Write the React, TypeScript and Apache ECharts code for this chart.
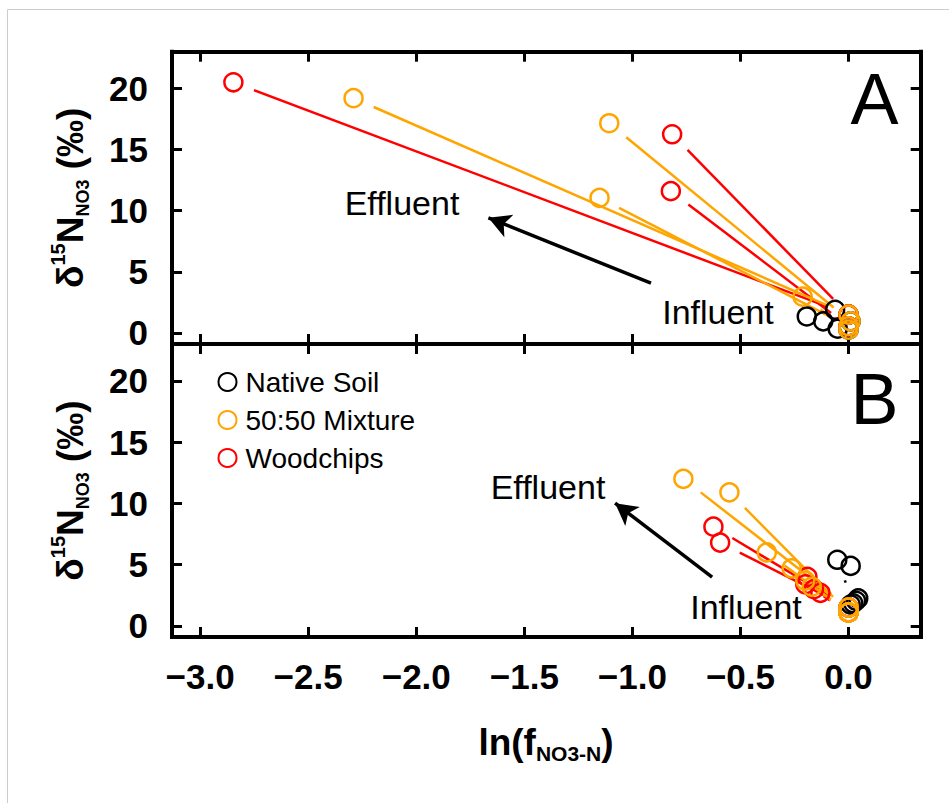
import React, { useEffect, useRef } from "react";
import * as echarts from "echarts";

const FONT = '"Liberation Sans", Arial, Helvetica, sans-serif';

// axis ticks
const xTicks = [-3, -2.5, -2, -1.5, -1, -0.5, 0];
const yTicks = [0, 5, 10, 15, 20];
const X_MIN = -3.13;
const X_MAX = 0.334;
const Y_MIN = -0.9;
const Y_MAX = 23;

const seriesNames = ["Native Soil", "50:50 Mixture", "Woodchips"];

// ---------- Panel A : [ln(f), d15N] ----------
const aSoilEffluent = [[-0.193, 1.35], [-0.117, 0.95], [-0.062, 1.9], [-0.05, 0.35]];
const aSoilInfluent = [[0, 1.5], [0.01, 0.95], [0, 0.55], [0, 0.27]];
const aMixEffluent = [[-2.29, 19.2], [-1.107, 17.15], [-1.152, 11.05], [-0.212, 2.97]];
const aMixInfluent = [[0, 1.5], [0.01, 0.95], [0, 0.55], [0, 0.27]];
const aWoodEffluent = [[-2.846, 20.5], [-0.816, 16.25], [-0.822, 11.6]];
const aWoodInfluent = [[0, 1.5], [0, 1.5], [0, 0.55]];
const aArrowFrom = [-0.914, 4.07];
const aArrowTo = [-1.666, 9.42];

// ---------- Panel B ----------
const bSoilEffluent = [[-0.052, 5.4], [0.01, 4.9], [0.045, 2.25]];
const bSoilInfluent = [[0.022, 1.85], [0.035, 2.05], [0.01, 1.75]];
const bMixEffluent = [[-0.764, 12.0], [-0.551, 10.9], [-0.378, 6.0], [-0.263, 4.7], [-0.2, 3.7], [-0.17, 3.2]];
const bMixInfluent = [[0, 1.5], [0, 1.1], [0, 1.1], [0, 1.5], [0, 1.1], [0, 1.1]];
const bWoodEffluent = [[-0.625, 8.1], [-0.594, 6.8], [-0.19, 4.0], [-0.2, 3.4], [-0.16, 3.0], [-0.13, 2.7]];
const bWoodInfluent = [[0, 1.5], [0, 1.5], [0, 1.5], [0, 1.1], [0, 1.1], [0, 1.1]];
const bArrowFrom = [-0.631, 3.99];
const bArrowTo = [-1.08, 10.02];

const BLACK = "#000000";
const ORANGE = "#ffa500";
const RED = "#ff0000";
const GAP = 22;

const fmtX = (v: number) => (Math.abs(v) < 1e-9 ? "0.0" : v.toFixed(1).replace("-", "\u2212"));

function xAxis(grid: number, position: string, showLabel: boolean) {
  return {
    type: "value",
    gridIndex: grid,
    position,
    min: X_MIN,
    max: X_MAX,
    axisLine: { show: true, onZero: false, lineStyle: { color: "#000", width: 4, cap: "square" } },
    axisTick: { show: true, inside: true, length: 10, lineStyle: { color: "#000", width: 3 }, customValues: xTicks },
    axisLabel: {
      show: showLabel,
      customValues: xTicks,
      formatter: fmtX,
      fontSize: 35,
      fontWeight: "bold",
      fontFamily: FONT,
      color: "#000",
      margin: 22,
    },
    splitLine: { show: false },
  };
}

function yAxis(grid: number, position: string, showLabel: boolean) {
  return {
    type: "value",
    gridIndex: grid,
    position,
    min: Y_MIN,
    max: Y_MAX,
    axisLine: { show: true, onZero: false, lineStyle: { color: "#000", width: 4, cap: "square" } },
    axisTick: { show: true, inside: true, length: 10, lineStyle: { color: "#000", width: 3 }, customValues: yTicks },
    axisLabel: {
      show: showLabel,
      customValues: yTicks,
      formatter: (v: number) => String(v),
      fontSize: 35,
      fontWeight: "bold",
      fontFamily: FONT,
      color: "#000",
      margin: 24,
    },
    splitLine: { show: false },
  };
}

function pairLines(eff: number[][], inf: number[][], color: string, axis: number) {
  const data = eff.map((e, i) => [e[0], e[1], inf[i][0], inf[i][1]]);
  return {
    type: "custom",
    xAxisIndex: axis * 2,
    yAxisIndex: axis * 2,
    silent: true,
    z: 1,
    dimensions: ["x1", "y1", "x2", "y2"],
    encode: { x: [0, 2], y: [1, 3] },
    data,
    renderItem: (params: any, api: any) => {
      const p1 = api.coord([api.value(0), api.value(1)]);
      const p2 = api.coord([api.value(2), api.value(3)]);
      const dx = p2[0] - p1[0];
      const dy = p2[1] - p1[1];
      const len = Math.hypot(dx, dy);
      if (len <= 2 * GAP) return { type: "group", children: [] };
      const ux = dx / len;
      const uy = dy / len;
      return {
        type: "line",
        shape: {
          x1: p1[0] + ux * GAP,
          y1: p1[1] + uy * GAP,
          x2: p2[0] - ux * GAP,
          y2: p2[1] - uy * GAP,
        },
        style: { stroke: color, lineWidth: 2.5, fill: null },
      };
    },
  };
}

function scatter(name: string, eff: number[][], inf: number[][], color: string, axis: number, arrow?: number[][]) {
  const s: any = {
    type: "scatter",
    name,
    xAxisIndex: axis * 2,
    yAxisIndex: axis * 2,
    data: [...eff, ...inf],
    symbol: "circle",
    symbolSize: 18,
    z: 3,
    itemStyle: { color: "rgba(0,0,0,0)", borderColor: color, borderWidth: 2.5, opacity: 1 },
    emphasis: { disabled: true },
  };
  if (arrow) {
    s.markLine = {
      silent: true,
      symbol: ["none", "arrow"],
      symbolSize: [18, 22],
      label: { show: false },
      emphasis: { disabled: true },
      lineStyle: { color: "#000", width: 3.5, type: "solid" },
      data: [[{ coord: arrow[0] }, { coord: arrow[1] }]],
    };
  }
  return s;
}

function yTitle(y: number) {
  return {
    type: "text",
    x: 70,
    y,
    rotation: Math.PI / 2,
    silent: true,
    style: {
      text: "{d|\u03b4}{sup|15}{d|N}{sub|NO3}{d| (\u2030)}",
      align: "center",
      verticalAlign: "middle",
      fill: "#000",
      rich: {
        d: { fontSize: 37, fontWeight: "bold", fontFamily: FONT, lineHeight: 44, fill: "#000" },
        sup: { fontSize: 20, fontWeight: "bold", fontFamily: FONT, lineHeight: 32, verticalAlign: "top", fill: "#000" },
        sub: { fontSize: 18, fontWeight: "bold", fontFamily: FONT, lineHeight: 13, verticalAlign: "bottom", fill: "#000" },
      },
    },
  };
}

function plainText(text: string, x: number, y: number, size: number) {
  return {
    type: "text",
    x,
    y,
    silent: true,
    style: { text, fontSize: size, fontFamily: FONT, fill: "#000", align: "center", verticalAlign: "middle" },
  };
}

export default function App() {
  const ref = useRef<HTMLDivElement>(null);
  useEffect(() => {
    if (!ref.current) return;
    const chart = echarts.init(ref.current, null, { renderer: "svg" });
    const option: any = {
      animation: false,
      backgroundColor: "#ffffff",
      grid: [
        { left: 172, top: 51.7, width: 748.7, height: 292.3, containLabel: false, outerBoundsMode: "none" },
        { left: 172, top: 344, width: 748.7, height: 293, containLabel: false, outerBoundsMode: "none" },
      ],
      xAxis: [xAxis(0, "bottom", false), xAxis(0, "top", false), xAxis(1, "bottom", true), xAxis(1, "top", false)],
      yAxis: [yAxis(0, "left", true), yAxis(0, "right", false), yAxis(1, "left", true), yAxis(1, "right", false)],
      legend: {
        data: seriesNames,
        orient: "vertical",
        left: 217.5,
        top: 368,
        padding: 0,
        itemWidth: 18,
        itemHeight: 18,
        itemGap: 10,
        icon: "circle",
        selectedMode: false,
        textStyle: { fontSize: 28, fontFamily: FONT, color: "#000", padding: [0, 0, 0, 4] },
      },
      series: [
        pairLines(aSoilEffluent, aSoilInfluent, BLACK, 0),
        pairLines(aWoodEffluent, aWoodInfluent, RED, 0),
        pairLines(aMixEffluent, aMixInfluent, ORANGE, 0),
        pairLines(bSoilEffluent, bSoilInfluent, BLACK, 1),
        pairLines(bWoodEffluent, bWoodInfluent, RED, 1),
        pairLines(bMixEffluent, bMixInfluent, ORANGE, 1),
        scatter(seriesNames[0], aSoilEffluent, aSoilInfluent, BLACK, 0, [aArrowFrom, aArrowTo]),
        scatter(seriesNames[2], aWoodEffluent, aWoodInfluent, RED, 0),
        scatter(seriesNames[1], aMixEffluent, aMixInfluent, ORANGE, 0),
        scatter(seriesNames[0], bSoilEffluent, bSoilInfluent, BLACK, 1, [bArrowFrom, bArrowTo]),
        scatter(seriesNames[2], bWoodEffluent, bWoodInfluent, RED, 1),
        scatter(seriesNames[1], bMixEffluent, bMixInfluent, ORANGE, 1),
      ],
      graphic: [
        {
          type: "rect",
          z: -10,
          silent: true,
          shape: { x: 7.5, y: 9.5, width: 1200, height: 1200 },
          style: { fill: "none", stroke: "#cccccc", lineWidth: 1 },
        },
        plainText("A", 874.5, 99, 72),
        plainText("B", 874.5, 399, 72),
        plainText("Effluent", 402, 202.5, 34),
        plainText("Influent", 718, 311.7, 34),
        plainText("Effluent", 548, 486.5, 34),
        plainText("Influent", 746, 606.5, 34),
        yTitle(197.8),
        yTitle(490.5),
        {
          type: "text",
          x: 546,
          y: 742,
          silent: true,
          style: {
            text: "{d|ln(f}{sub|NO3-N}{d|)}",
            align: "center",
            verticalAlign: "middle",
            fill: "#000",
            rich: {
              d: { fontSize: 37, fontWeight: "bold", fontFamily: FONT, lineHeight: 44, fill: "#000" },
              sub: { fontSize: 21, fontWeight: "bold", fontFamily: FONT, lineHeight: 6, verticalAlign: "bottom", fill: "#000" },
            },
          },
        },
      ],
    };
    chart.setOption(option);
    return () => chart.dispose();
  }, []);
  return (
    <div
      ref={ref}
      style={{ position: "fixed", left: 0, top: 0, width: 949, height: 803, background: "#fff" }}
    />
  );
}
